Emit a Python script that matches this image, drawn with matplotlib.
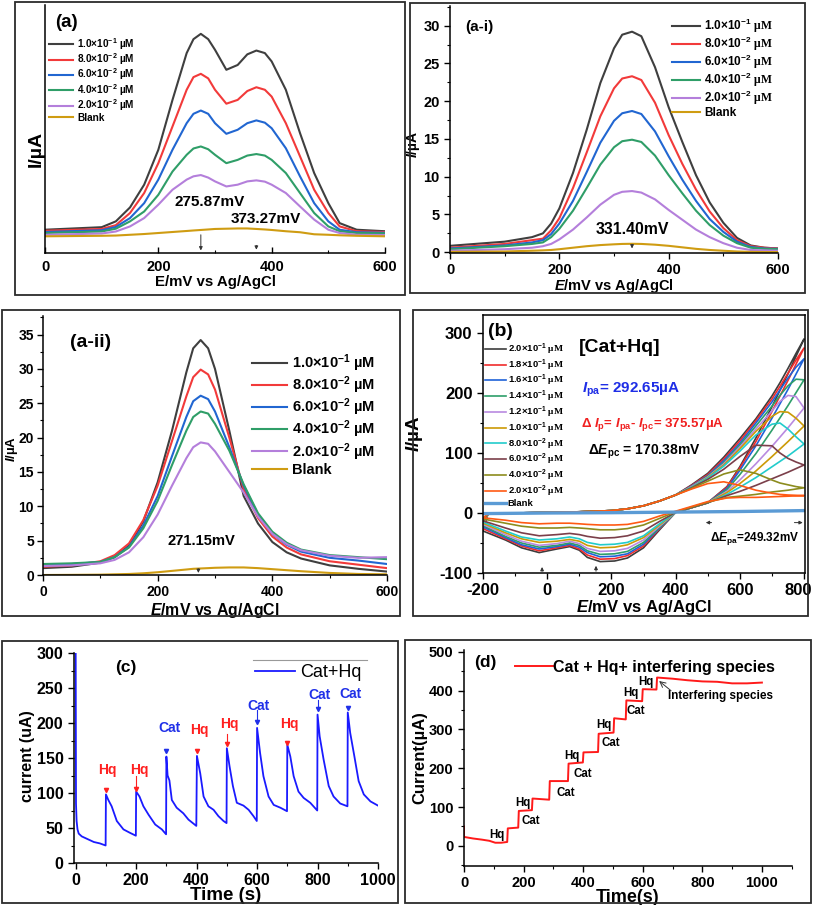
import matplotlib
matplotlib.use("Agg")
import matplotlib.pyplot as plt
from matplotlib.patches import Rectangle
from matplotlib.ticker import MultipleLocator
from matplotlib.transforms import ScaledTranslation

plt.rcParams['font.family'] = ['Liberation Sans', 'DejaVu Sans']
plt.rcParams['font.weight'] = 'bold'
plt.rcParams['axes.labelweight'] = 'bold'
plt.rcParams['axes.unicode_minus'] = False
plt.rcParams['mathtext.fontset'] = 'custom'
plt.rcParams['mathtext.rm'] = 'Liberation Serif'
plt.rcParams['mathtext.it'] = 'Liberation Sans:italic:bold'
plt.rcParams['mathtext.bf'] = 'Liberation Sans:bold'
plt.rcParams['mathtext.default'] = 'regular'
plt.rcParams['axes.linewidth'] = 1.1

# ---------------- data ----------------
conc_colors = ['#3f3f3f', '#f23a3a', '#2166d1', '#2f9e68', '#b47fdb', '#cf9c12']
conc_sans = ['1.0×$10^{-1}$ µM', '8.0×$10^{-2}$ µM', '6.0×$10^{-2}$ µM',
             '4.0×$10^{-2}$ µM', '2.0×$10^{-2}$ µM', 'Blank']
conc_serif = [r'1.0×$10^{-1}$ $\mathrm{\mu M}$', r'8.0×$10^{-2}$ $\mathrm{\mu M}$',
              r'6.0×$10^{-2}$ $\mathrm{\mu M}$', r'4.0×$10^{-2}$ $\mathrm{\mu M}$',
              r'2.0×$10^{-2}$ $\mathrm{\mu M}$', 'Blank']

# (a) DPV, arbitrary current scale
a_x = [0, 100, 125, 150, 175, 200, 225, 250, 262, 275, 288, 300, 320, 340, 357, 373, 388, 400,
       425, 450, 475, 500, 520, 550, 600]
a_black = [9.2, 10.2, 12.5, 18.0, 27.0, 40.8, 60.5, 79.0, 84.5, 86.6, 84.5, 80.3, 72.4, 74.3, 78.5,
           80.0, 79.0, 75.7, 64.5, 47.4, 31.6, 19.7, 11.8, 9.2, 8.6]
a_red = [8.8, 9.5, 11.0, 15.8, 23.7, 35.5, 50.0, 64.5, 69.5, 70.8, 69.0, 64.5, 59.0, 60.5, 64.0,
         65.5, 64.5, 61.8, 51.3, 38.2, 25.0, 15.8, 10.5, 8.6, 8.3]
a_blue = [8.3, 9.0, 10.3, 13.8, 19.7, 29.0, 40.8, 51.3, 55.0, 56.3, 55.0, 51.3, 47.1, 48.7, 51.3,
          52.4, 51.5, 49.3, 41.4, 30.3, 19.7, 12.5, 9.2, 8.2, 8.0]
a_green = [7.9, 8.5, 9.6, 12.5, 16.4, 23.0, 32.2, 38.8, 41.3, 42.1, 41.0, 38.8, 35.5, 36.8, 38.5,
           39.1, 38.5, 36.8, 31.6, 23.7, 15.8, 10.5, 8.6, 7.9, 7.8]
a_purple = [7.2, 7.7, 8.5, 10.5, 13.8, 19.1, 25.0, 29.0, 30.3, 30.8, 29.8, 28.3, 26.3, 27.0, 28.3,
            28.7, 28.2, 27.0, 23.7, 18.4, 13.2, 9.2, 7.9, 7.2, 7.1]
a_blank = [6.6, 6.8, 6.9, 7.2, 7.5, 7.9, 8.3, 8.7, 8.9, 9.1, 9.3, 9.5, 9.6, 9.7, 9.7, 9.5, 9.3, 9.1,
           8.6, 8.2, 7.4, 7.2, 7.0, 6.8, 6.6]

# (a-i)
ai_x = [0, 100, 150, 170, 185, 200, 225, 250, 275, 300, 315, 333, 350, 375, 400, 425, 450, 475,
        500, 525, 550, 575, 600]
ai_black = [0.85, 1.4, 2.0, 2.5, 3.8, 5.8, 10.5, 16.2, 22.4, 27.0, 28.8, 29.2, 28.6, 24.5, 19.2,
            14.6, 10.2, 6.6, 3.9, 1.9, 0.9, 0.6, 0.5]
ai_red = [0.6, 1.1, 1.6, 1.8, 2.9, 4.5, 8.5, 13.2, 18.0, 21.7, 23.0, 23.3, 22.8, 19.8, 15.5, 11.7,
          8.3, 5.4, 3.2, 1.6, 0.8, 0.6, 0.5]
ai_blue = [0.5, 0.9, 1.3, 1.6, 2.4, 3.8, 6.8, 10.6, 14.5, 17.4, 18.4, 18.7, 18.3, 16.0, 12.7, 9.6,
           6.8, 4.4, 2.7, 1.4, 0.7, 0.5, 0.45]
ai_green = [0.4, 0.8, 1.1, 1.3, 2.0, 3.1, 5.5, 8.5, 11.6, 13.9, 14.7, 14.9, 14.6, 12.8, 10.2, 7.8,
            5.5, 3.6, 2.2, 1.2, 0.6, 0.45, 0.4]
ai_purple = [0.2, 0.4, 0.6, 0.8, 1.1, 1.7, 3.0, 4.6, 6.3, 7.6, 8.0, 8.1, 7.9, 7.0, 5.6, 4.3, 3.0,
             2.0, 1.2, 0.6, 0.3, 0.25, 0.2]
ai_blank = [0.05, 0.1, 0.2, 0.25, 0.3, 0.4, 0.6, 0.8, 0.95, 1.05, 1.1, 1.12, 1.1, 1.0, 0.85, 0.65,
            0.45, 0.3, 0.2, 0.1, 0.05, 0.03, 0.02]

# (a-ii)
aii_x = [0, 50, 100, 125, 150, 175, 200, 225, 250, 262, 275, 288, 300, 325, 350, 375, 400, 425,
         450, 500, 550, 600]
aii_black = [1.0, 1.2, 1.8, 2.6, 4.3, 7.8, 13.5, 21.0, 29.5, 33.0, 34.2, 33.0, 30.0, 21.0, 11.5,
             7.5, 4.8, 3.3, 2.4, 1.4, 0.9, 0.5]
aii_red = [1.2, 1.4, 2.0, 2.9, 4.6, 8.0, 13.0, 19.5, 26.0, 28.8, 29.9, 29.2, 27.0, 20.0, 12.5, 8.3,
           5.6, 4.0, 3.0, 2.0, 1.5, 1.0]
aii_blue = [1.5, 1.6, 1.9, 2.6, 4.1, 7.2, 11.5, 17.3, 23.0, 25.3, 26.1, 25.6, 23.8, 18.6, 13.0,
            8.8, 6.0, 4.4, 3.4, 2.5, 2.1, 1.6]
aii_green = [1.6, 1.7, 1.9, 2.6, 4.0, 6.8, 10.8, 16.0, 21.0, 23.0, 23.8, 23.5, 22.0, 18.1, 13.2,
             9.0, 6.3, 4.7, 3.7, 2.9, 2.6, 2.3]
aii_purple = [1.3, 1.4, 1.7, 2.2, 3.3, 5.5, 8.8, 13.0, 17.0, 18.6, 19.3, 19.1, 18.0, 15.0, 12.0,
              8.5, 6.0, 4.5, 3.6, 2.8, 2.5, 2.6]
aii_blank = [0.0, 0.02, 0.05, 0.1, 0.15, 0.25, 0.4, 0.6, 0.8, 0.9, 0.95, 1.0, 1.05, 1.1, 1.1, 1.0,
             0.85, 0.7, 0.55, 0.3, 0.15, 0.1]

# (b) CV, forward branch: shared start then per-curve tail; reverse branch per curve
b_labels = [r'2.0×$10^{-1}$ $\mathrm{\mu M}$', r'1.8×$10^{-1}$ $\mathrm{\mu M}$',
            r'1.6×$10^{-1}$ $\mathrm{\mu M}$', r'1.4×$10^{-1}$ $\mathrm{\mu M}$',
            r'1.2×$10^{-1}$ $\mathrm{\mu M}$', r'1.0×$10^{-1}$ $\mathrm{\mu M}$',
            r'8.0×$10^{-2}$ $\mathrm{\mu M}$', r'6.0×$10^{-2}$ $\mathrm{\mu M}$',
            r'4.0×$10^{-2}$ $\mathrm{\mu M}$', r'2.0×$10^{-2}$ $\mathrm{\mu M}$']
b_colors = ['#3d3d3d', '#f02c2c', '#1f62d8', '#2e9e6a', '#b98ae0', '#cc9a06', '#22cccc',
            '#7b3f4a', '#8c8c1e', '#ff5a14']
b_fwd_x = [-185, -100, 0, 100, 200, 250, 300, 350, 400, 450, 500, 550, 600, 650, 700, 725, 750,
           775, 800]
b_fwd_common = [-2, 0, 1, 2, 4, 7, 12, 20, 30]
b_fwd_tail = [
    [47, 66, 93, 124, 157, 195, 217, 241, 266, 290],
    [46, 64, 90, 120, 154, 190, 211, 233, 255, 275],
    [45, 62, 87, 116, 150, 185, 205, 225, 243, 257],
    [44, 61, 84, 113, 145, 178, 196, 212, 223, 222],
    [44, 60, 82, 110, 140, 170, 186, 196, 194, 175],
    [43, 59, 80, 107, 136, 161, 169, 168, 158, 145],
    [43, 58, 78, 103, 130, 148, 150, 140, 127, 115],
    [42, 56, 73, 94, 113, 112, 100, 91, 85, 80],
    [41, 53, 65, 72, 66, 55, 50, 47, 44, 42],
    [40, 49, 52, 46, 38, 33, 31, 30, 29.5, 29],
]
b_rev_x = [750, 700, 650, 600, 560, 500, 450, 400, 350, 300, 250, 210, 165, 125, 100, 70, 30,
           -25, -80, -130, -200]
b_rev = [
    [232, 177, 125, 77, 44, 17, 9, 1, -28, -58, -75, -80, -81, -74, -62, -56, -60, -66, -58, -45, -30],
    [221, 169, 119, 75, 43, 17, 9, 1, -26, -55, -71, -76, -77, -70, -60, -54, -58, -63, -55, -43, -26],
    [206, 158, 112, 71, 41, 17, 9, 1, -25, -52, -68, -72, -73, -66, -57, -52, -56, -60, -53, -41, -23],
    [179, 138, 99, 64, 39, 17, 9, 1, -24, -49, -64, -68, -69, -63, -54, -50, -54, -57, -50, -39, -21],
    [142, 111, 82, 55, 36, 17, 9, 1, -22, -45, -59, -63, -64, -59, -51, -47, -51, -54, -47, -36, -19],
    [119, 94, 70, 49, 34, 17, 9, 1, -20, -41, -53, -57, -58, -54, -47, -44, -47, -49, -43, -33, -17],
    [95, 77, 59, 43, 31, 17, 9, 1, -18, -38, -49, -52, -53, -49, -43, -40, -43, -45, -40, -30, -15],
    [68, 57, 46, 36, 29, 17, 9, 1, -14, -30, -38, -41, -42, -39, -36, -34, -36, -38, -33, -25, -13],
    [38, 35, 31, 28, 26, 18, 10, 2, -9, -20, -26, -28, -28, -26, -25, -24, -25, -25, -22, -17, -10],
    [28, 27, 26, 26, 25, 19, 11, 3, -5, -14, -19, -20, -20, -19, -18, -17, -17, -18, -16, -12, -8],
]
b_blank_x = [-200, 0, 200, 400, 600, 800]
b_blank_y = [-1, 0, 0.5, 1.5, 2.5, 4]

# (c) amperometric response
c_time = [0, 1, 3, 6, 10, 20, 40, 60, 80, 99,
          100, 108, 119, 136, 158, 180, 199,
          200, 211, 224, 241, 263, 285, 299,
          300, 304, 310, 318, 334, 356, 373, 399,
          401, 412, 423, 439, 456, 472, 489, 499,
          500, 509, 520, 533, 555, 572, 588, 599,
          600, 610, 621, 638, 655, 677, 699,
          700, 710, 721, 737, 754, 776, 799,
          800, 807, 820, 837, 853, 875, 899,
          900, 908, 922, 936, 953, 975, 1000]
c_current = [300, 85, 60, 48, 42, 38, 34, 30, 28, 25,
             98, 90, 81, 60, 48, 43, 39,
             102, 95, 81, 69, 55, 48, 41,
             152, 125, 118, 90, 79, 71, 62, 53,
             153, 128, 95, 81, 76, 67, 60, 57,
             164, 138, 110, 86, 82, 76, 67, 60,
             193, 157, 124, 95, 83, 79, 74,
             169, 152, 124, 102, 93, 86, 75,
             212, 181, 148, 110, 95, 85, 81,
             215, 186, 152, 117, 98, 88, 82]
c_labels = ['Hq', 'Hq', 'Cat', 'Hq', 'Hq', 'Cat', 'Hq', 'Cat', 'Cat']
c_label_t = [105, 210, 309, 408, 508, 604, 706, 805, 908]
c_label_y = [133, 133, 193, 190, 198, 225, 199, 240, 241]
c_mark_t = [100, 200, 300, 400, 500, 600, 700, 800, 900]
c_mark_y = [104, 106, 160, 160, 170, 202, 172, 220, 222]
c_stem_top = [104, 125, 160, 160, 185, 218, 172, 233, 222]

# (d) step response
d_time = [0, 0, 30, 60, 85, 105, 125, 145, 147, 182, 184, 228, 230, 286, 288, 349, 351, 399, 401,
          450, 452, 502, 504, 543, 545, 598, 600, 646, 648, 700, 750, 800, 850, 900, 950, 1000]
d_current = [50, 23, 19, 16, 13, 8, 8, 10, 45, 47, 90, 92, 122, 119, 167, 167, 212, 215, 241,
             242, 289, 292, 329, 326, 375, 373, 404, 403, 434, 431, 427, 424, 423, 419, 419, 421]
d_labels = ['Hq', 'Hq', 'Cat', 'Cat', 'Cat', 'Hq', 'Cat', 'Hq', 'Cat', 'Hq', 'Hq']
d_label_t = [111, 198, 224, 341, 399, 361, 494, 470, 578, 559, 610]
d_label_y = [27, 111, 64, 137, 186, 231, 265, 312, 348, 394, 423]

# ---------------- figure ----------------
W, H = 813, 905
fig = plt.figure(figsize=(W / 100, H / 100), dpi=100)


def add_ax(l, t, r, b):
    return fig.add_axes([l / W, 1 - b / H, (r - l) / W, (b - t) / H])


def frame(l, t, r, b):
    fig.add_artist(Rectangle((l / W, 1 - b / H), (r - l) / W, (b - t) / H,
                             transform=fig.transFigure, fill=False, lw=1.3, ec='#2b2b2b'))


def small_arrow(ax, x0, y0, x1, y1, color='#333333'):
    ax.annotate('', xy=(x1, y1), xytext=(x0, y0),
                arrowprops=dict(arrowstyle='-|>', color=color, lw=0.7, mutation_scale=5,
                                shrinkA=0, shrinkB=0))


def set_ticks(ax, xt, yt):
    ax.set_xticks(xt, labels=[str(v) for v in xt], fontweight='bold')
    ax.set_yticks(yt, labels=[str(v) for v in yt], fontweight='bold')


def style_ticks(ax, size, direction='out', box=False):
    ax.tick_params(which='major', direction=direction, length=4, width=1, labelsize=size)
    ax.tick_params(which='minor', direction=direction, length=2.2, width=0.8)
    if not box:
        for s in ['top', 'right']:
            ax.spines[s].set_visible(False)


# (a)
frame(15, 2, 405, 295)
ax = add_ax(45, 5, 385, 253)
for ys, c, lab in zip([a_black, a_red, a_blue, a_green, a_purple, a_blank], conc_colors, conc_sans):
    ax.plot(a_x, ys, color=c, lw=1.5, label=lab)
ax.set_xlim(0, 600)
ax.set_ylim(0, 98)
set_ticks(ax, [0, 200, 400, 600], [])
ax.xaxis.set_minor_locator(MultipleLocator(100))
style_ticks(ax, 10.5, 'in')
ax.tick_params(axis='x', pad=5)
ax.set_xlabel('E/mV vs Ag/AgCl', fontsize=10.8, labelpad=1)
ax.set_ylabel('I/µA', fontsize=14)
ax.yaxis.set_label_coords(0.0, 0.42)
ax.legend(loc='upper left', bbox_to_anchor=(0.012, 0.875), frameon=False, fontsize=7.2,
          handlelength=2.4, handletextpad=0.4, labelspacing=-0.05, borderpad=0, borderaxespad=0)
ax.text(0.03, 0.93, '(a)', transform=ax.transAxes, fontsize=13.5, va='center')
ax.text(291, 20, '275.87mV', fontsize=11, ha='center', va='center')
ax.text(389, 13.4, '373.27mV', fontsize=11, ha='center', va='center')
small_arrow(ax, 275, 7.2, 275, 1.0)
small_arrow(ax, 373, 3.0, 373, 1.3)

# (a-i)
frame(410, 3, 805, 293)
ax = add_ax(450, 6, 778, 253)
for ys, c, lab in zip([ai_black, ai_red, ai_blue, ai_green, ai_purple, ai_blank], conc_colors,
                      conc_serif):
    ax.plot(ai_x, ys, color=c, lw=1.5, label=lab)
ax.set_xlim(0, 600)
ax.set_ylim(-0.1, 32.6)
set_ticks(ax, [0, 200, 400, 600], list(range(0, 31, 5)))
ax.xaxis.set_minor_locator(MultipleLocator(100))
ax.yaxis.set_minor_locator(MultipleLocator(2.5))
style_ticks(ax, 10.5)
ax.set_xlabel('$\\mathit{E}$/mV vs Ag/AgCl', fontsize=10.5, labelpad=0)
ax.set_ylabel('$\\mathit{I}$/µA', fontsize=10)
ax.yaxis.set_label_coords(-0.085, 0.44)
ax.legend(loc='upper left', bbox_to_anchor=(0.677, 0.955), frameon=False, fontsize=8.5,
          handlelength=2.4, handletextpad=0.3, labelspacing=-0.02, borderpad=0, borderaxespad=0)
ax.text(0.046, 0.915, '(a-i)', transform=ax.transAxes, fontsize=11, va='center')
ax.text(333, 3.0, '331.40mV', fontsize=11.4, ha='center', va='center')
small_arrow(ax, 333, 1.0, 333, 0.5)

# (a-ii)
frame(2, 310, 400, 616)
ax = add_ax(43, 316, 387, 575)
for ys, c, lab in zip([aii_black, aii_red, aii_blue, aii_green, aii_purple, aii_blank],
                      conc_colors, conc_sans):
    ax.plot(aii_x, ys, color=c, lw=1.5, label=lab)
ax.set_xlim(0, 600)
ax.set_ylim(0, 37.7)
set_ticks(ax, [0, 200, 400, 600], list(range(0, 36, 5)))
ax.xaxis.set_minor_locator(MultipleLocator(100))
ax.yaxis.set_minor_locator(MultipleLocator(2.5))
style_ticks(ax, 10)
ax.tick_params(axis='y', pad=2.5)
ax.set_xlabel('$\\mathit{E}$/mV vs Ag/AgCl', fontsize=11.4, labelpad=1)
ax.set_ylabel('$\\mathit{I}$/µA', fontsize=9.5)
ax.yaxis.set_label_coords(-0.068, 0.488)
ax.legend(loc='upper left', bbox_to_anchor=(0.608, 0.86), frameon=False, fontsize=10.5,
          handlelength=2.4, handletextpad=0.35, labelspacing=0.04, borderpad=0, borderaxespad=0)
ax.text(0.078, 0.896, '(a-ii)', transform=ax.transAxes, fontsize=14, va='center')
ax.text(277, 5.0, '271.15mV', fontsize=10.6, ha='center', va='center')
small_arrow(ax, 271, 0.9, 271, 0.3)

# (b)
frame(413, 310, 808, 616)
ax = add_ax(483, 315, 805, 573)
for tail, rev, c, lab in zip(b_fwd_tail, b_rev, b_colors, b_labels):
    xs = [-200] + b_fwd_x + b_rev_x
    ys = [rev[-1]] + b_fwd_common + tail + rev
    ax.plot(xs, ys, color=c, lw=1.2, label=lab)
ax.plot(b_blank_x, b_blank_y, color='#5b9bd5', lw=2.4, label='Blank')
ax.set_xlim(-200, 803)
ax.set_ylim(-100, 330)
set_ticks(ax, list(range(-200, 801, 200)), list(range(-100, 301, 100)))
ax.xaxis.set_minor_locator(MultipleLocator(100))
ax.yaxis.set_minor_locator(MultipleLocator(50))
style_ticks(ax, 12, box=True)
last = ax.get_xticklabels()[-1]
last.set_transform(last.get_transform() + ScaledTranslation(-0.06, 0, fig.dpi_scale_trans))
ax.set_xlabel('$\\mathit{E}$/mV vs Ag/AgCl', fontsize=12, labelpad=0)
ax.set_ylabel('$\\mathit{I}$/µA', fontsize=13.5)
ax.yaxis.set_label_coords(-0.18, 0.54)
ax.legend(loc='upper left', bbox_to_anchor=(0.006, 0.897), frameon=False, fontsize=6.8,
          handlelength=2.2, handletextpad=0.2, labelspacing=0.05, borderpad=0, borderaxespad=0)
ax.text(-183, 302, '(b)', fontsize=14, va='center')
ax.text(227, 275, '[Cat+Hq]', fontsize=14, ha='center', va='center')
ax.text(109, 205, '$\\mathit{I}_{\\mathbf{pa}}$= 292.65µA', fontsize=11, color='#1f2ee6',
        va='center')
ax.text(106, 147, 'Δ $\\mathit{I}_{\\mathbf{p}}$= $\\mathit{I}_{\\mathbf{pa}}$- '
        '$\\mathit{I}_{\\mathbf{pc}}$= 375.57µA', fontsize=9.5, color='#f02020', va='center')
ax.text(128, 102, 'Δ$\\mathit{E}_{\\mathbf{pc}}$ = 170.38mV', fontsize=10, va='center')
ax.text(508, -42, 'Δ$\\mathit{E}_{\\mathbf{pa}}$=249.32mV', fontsize=8.5, va='center')
small_arrow(ax, 512, -16, 494, -16)
small_arrow(ax, 770, -16, 796, -16)
small_arrow(ax, -16, -97, -16, -90)
small_arrow(ax, 152, -97, 152, -88)

# (c)
frame(2, 641, 398, 903)
ax = add_ax(74, 653, 378, 863)
ax.plot(c_time, c_current, color='#1a1aff', lw=1.3, label='Cat+Hq')
ax.set_xlim(-5.6, 1000)
ax.set_ylim(0, 300)
set_ticks(ax, list(range(0, 1001, 200)), list(range(0, 301, 50)))
ax.xaxis.set_minor_locator(MultipleLocator(100))
ax.yaxis.set_minor_locator(MultipleLocator(25))
style_ticks(ax, 11.5)
ax.set_xlabel('Time (s)', fontsize=13.5, labelpad=-1)
ax.set_ylabel('current (uA)', fontsize=11.5)
ax.yaxis.set_label_coords(-0.128, 0.51)
ax.legend(loc='center left', bbox_to_anchor=(0.595, 0.905), frameon=False,
          prop={'size': 13, 'weight': 'normal'}, handlelength=2.2, handletextpad=0.3,
          borderpad=0, borderaxespad=0)
ax.plot([0.59, 0.965], [0.967, 0.967], transform=ax.transAxes, color='#999999', lw=0.8)
ax.text(166, 279, '(c)', fontsize=12.5, ha='center', va='center')
for lab, t, y in zip(c_labels, c_label_t, c_label_y):
    ax.text(t, y, lab, fontsize=10, ha='center', va='center',
            color='#ff2020' if lab == 'Hq' else '#2030e8')
for t, y, top, lab in zip(c_mark_t, c_mark_y, c_stem_top, c_labels):
    col = '#ff2020' if lab == 'Hq' else '#2030e8'
    ax.plot([t, t], [y, top], color=col, lw=0.8)
    ax.plot(t, y, marker='v', ms=3, color=col)

# (d)
frame(405, 640, 811, 903)
ax = add_ax(464, 650, 792, 866)
ax.plot(d_time, d_current, color='#ff1a1a', lw=1.4, label='Cat + Hq+ interfering species')
ax.set_xlim(0, 1101)
ax.set_ylim(-52, 505)
set_ticks(ax, list(range(0, 1001, 200)), list(range(0, 501, 100)))
ax.xaxis.set_minor_locator(MultipleLocator(100))
ax.yaxis.set_minor_locator(MultipleLocator(50))
style_ticks(ax, 10.5)
ax.set_xlabel('Time(s)', fontsize=13, labelpad=-1)
ax.set_ylabel('Current(µA)', fontsize=12)
ax.yaxis.set_label_coords(-0.113, 0.5)
ax.legend(loc='center left', bbox_to_anchor=(0.155, 0.921), frameon=False, fontsize=11.5,
          handlelength=2.4, handletextpad=0.0, borderpad=0, borderaxespad=0)
ax.text(72, 474, '(d)', fontsize=12.5, ha='center', va='center')
for lab, t, y in zip(d_labels, d_label_t, d_label_y):
    ax.text(t, y, lab, fontsize=8.3, ha='center', va='center')
ax.text(860, 387, 'Interfering species', fontsize=8.5, ha='center', va='center')
ax.annotate('', xy=(655, 425), xytext=(695, 400),
            arrowprops=dict(arrowstyle='->', color='#333333', lw=0.7, shrinkA=0, shrinkB=0))

fig.savefig('out.png', dpi=100)
